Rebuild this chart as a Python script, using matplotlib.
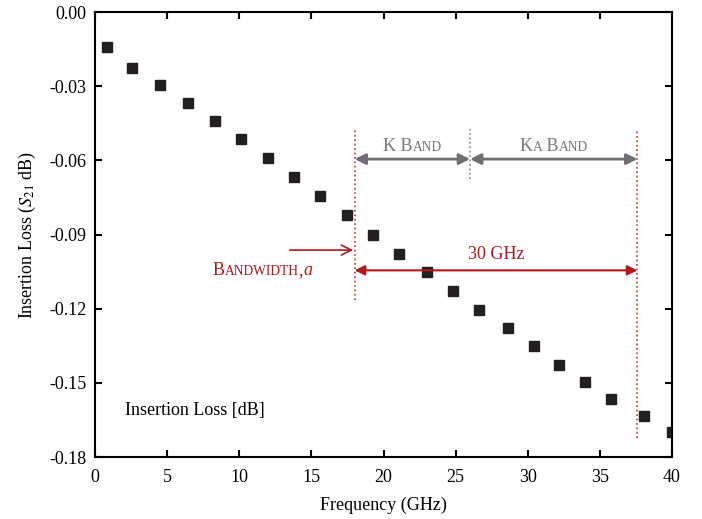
import numpy as np
import matplotlib
matplotlib.use("Agg")
import matplotlib.pyplot as plt
from matplotlib.offsetbox import TextArea, HPacker, AnnotationBbox

plt.rcParams['font.family'] = ['Liberation Serif', 'DejaVu Serif']
plt.rcParams['mathtext.fontset'] = 'stix'

# data
freq = [0.83, 2.56, 4.5, 6.45, 8.32, 10.12, 12.0, 13.8, 15.6, 17.5, 19.3,
        21.1, 23.0, 24.8, 26.6, 28.6, 30.4, 32.2, 34.0, 35.8, 38.06, 40.0]
loss = [-0.0142, -0.0227, -0.0295, -0.0368, -0.0441, -0.0514, -0.0591,
        -0.0667, -0.0744, -0.0821, -0.0902, -0.0979, -0.1052, -0.1129,
        -0.1205, -0.1278, -0.1351, -0.1428, -0.1497, -0.1566, -0.1634, -0.1699]

band_lo = 18.0
band_mid = 26.0
band_hi = 37.6

red = '#b3191c'
grey = '#6f6f73'

fig = plt.figure(figsize=(7.02, 5.19), dpi=100)
ax = fig.add_axes([95/702, 1-457/519, 577/702, 445/519])

ax.plot(freq, loss, 's', color='#231f20', markersize=6.5, linestyle='none')

ax.set_xlim(0, 40)
ax.set_ylim(-0.18, 0.0)
ax.set_xticks(np.arange(0, 41, 5))
ax.set_yticks(np.arange(-0.18, 0.001, 0.03))
ax.set_yticklabels(['%.2f' % v for v in np.arange(-0.18, 0.001, 0.03)])
ax.tick_params(direction='in', length=5, width=1.5, labelsize=13,
               top=True, right=True, pad=6)
ax.tick_params(axis='x', pad=9)
for s in ax.spines.values():
    s.set_linewidth(1.5)
ax.set_xlabel('Frequency (GHz)', fontsize=13, labelpad=7)
ax.set_ylabel(r'Insertion Loss ($S_{21}$ dB)', fontsize=13, labelpad=8)

# band limits
ax.plot([band_lo, band_lo], [-0.1163, -0.0475], ':', color='#d0342c', lw=1.2)
ax.plot([band_hi, band_hi], [-0.1725, -0.0475], ':', color='#d0342c', lw=1.2)
ax.plot([band_mid, band_mid], [-0.0675, -0.0475], ':', color='#8a8a8a', lw=1.2)

grey_arrow = dict(arrowstyle='<|-|>', color=grey, lw=2, mutation_scale=16,
                  shrinkA=0, shrinkB=0)
ax.annotate('', xy=(band_lo, -0.0595), xytext=(band_mid, -0.0595),
            arrowprops=grey_arrow)
ax.annotate('', xy=(band_mid, -0.0595), xytext=(band_hi, -0.0595),
            arrowprops=grey_arrow)

red_arrow = dict(arrowstyle='<|-|>', color=red, lw=1.5, mutation_scale=15,
                 shrinkA=0, shrinkB=0)
ax.annotate('', xy=(band_lo, -0.1045), xytext=(band_hi, -0.1045),
            arrowprops=red_arrow)
ax.annotate('', xy=(band_lo - 0.1, -0.0963), xytext=(13.5, -0.0963),
            arrowprops=dict(arrowstyle='->', color=red, lw=1.2,
                            mutation_scale=18, shrinkA=0, shrinkB=0))
ax.text((band_lo + band_hi) / 2, -0.1015, '30 GHz', color=red, fontsize=13,
        ha='center', va='bottom')


def small_caps(parts, xy, color, size=13):
    boxes = []
    for txt, big in parts:
        props = dict(color=color, fontsize=size if big else size * 0.75,
                     family=['Liberation Serif'])
        if txt == 'a':
            props['style'] = 'italic'
            props['fontsize'] = size
        boxes.append(TextArea(txt, textprops=props))
    pack = HPacker(children=boxes, align='baseline', pad=0, sep=0)
    ab = AnnotationBbox(pack, xy, frameon=False, box_alignment=(0.5, 0.5))
    ax.add_artist(ab)


small_caps([('K B', True), ('AND', False)], (22.0, -0.0545), '#7a7a7a')
small_caps([('K', True), ('A', False), (' B', True), ('AND', False)],
           (31.8, -0.0545), '#7a7a7a')
small_caps([('B', True), ('ANDWIDTH', False), (',', True), ('a', True)],
           (11.6, -0.1045), red)

ax.text(2.1, -0.1612, 'Insertion Loss [dB]', fontsize=13, ha='left', va='center')

fig.savefig('out.png', dpi=100)
